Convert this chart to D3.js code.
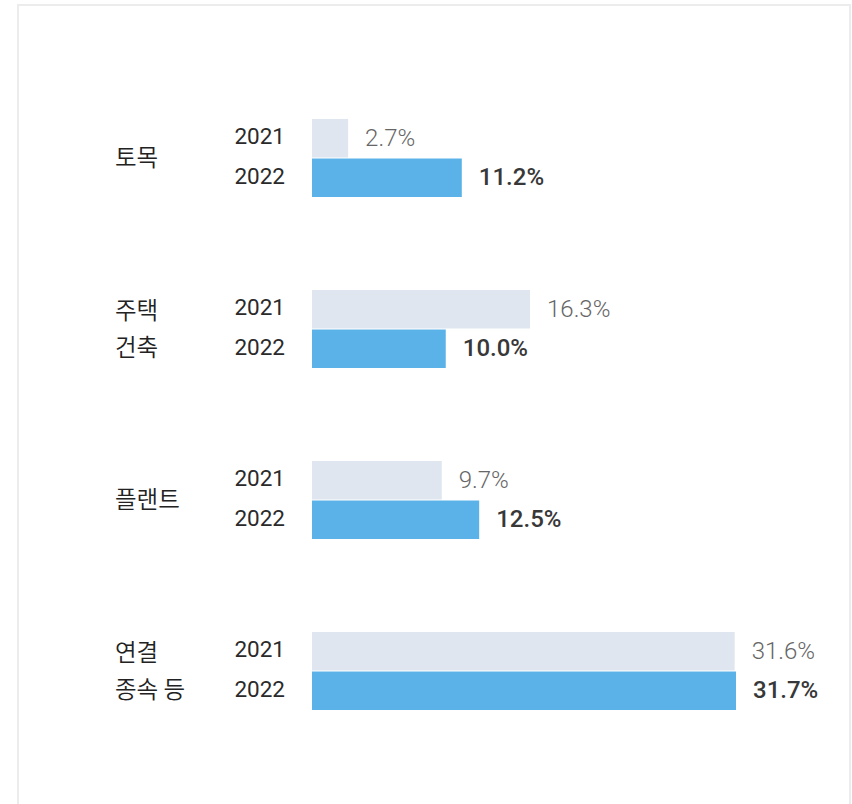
<!DOCTYPE html>
<html>
<head>
<meta charset="utf-8">
<script src="https://cdn.jsdelivr.net/npm/d3@7"></script>
<style>
  html, body { margin: 0; padding: 0; background: #fff; }
  svg { display: block; }
</style>
</head>
<body>
<div id="chart"></div>
<script>
// categories (line breaks as in the original labels)
var categories = ["토목", "주택건축", "플랜트", "연결종속등"];
var categoryLines = [["토목"], ["주택", "건축"], ["플랜트"], ["연결", "종속 등"]];
var years = ["2021", "2022"];
var values2021 = [2.7, 16.3, 9.7, 31.6];
var values2022 = [11.2, 10.0, 12.5, 31.7];

var width = 852, height = 804;

var svg = d3.select("#chart")
    .append("svg")
    .attr("width", width)
    .attr("height", height);

// card border
svg.append("rect")
    .attr("x", 18)
    .attr("y", 5)
    .attr("width", 832)
    .attr("height", 830)
    .attr("fill", "#fff")
    .attr("stroke", "#ececec")
    .attr("stroke-width", 2);

var rows = categories.map(function (c, i) {
    return {cat: c, lines: categoryLines[i], vals: [values2021[i], values2022[i]]};
});

// group scale
var y = d3.scaleBand()
    .domain(categories)
    .range([119, 710])
    .paddingInner(0.5439)
    .paddingOuter(0);

// year scale inside a group
var yInner = d3.scaleBand()
    .domain(years)
    .range([0, y.bandwidth()])
    .paddingInner(0.026);

var x = d3.scaleLinear()
    .domain([0, 40])
    .range([312, 847]);

var colors = {"2021": "#dfe6f0", "2022": "#5ab2e8"};

var g = svg.selectAll(".row")
    .data(rows)
    .enter()
    .append("g")
    .attr("class", "row")
    .attr("transform", function (d) { return "translate(0," + y(d.cat) + ")"; });

// category label
var catFs = 23.5;
g.append("text")
    .attr("x", 115)
    .attr("font-family", "'Noto Sans CJK KR', 'Noto Sans', sans-serif")
    .attr("font-size", catFs)
    .attr("font-weight", 350)
    .attr("fill", "#222")
    .each(function (d) {
        var t = d3.select(this);
        var lh = 36.7;
        var start = y.bandwidth() / 2 - (d.lines.length - 1) * lh / 2 + catFs * 0.36;
        d.lines.forEach(function (line, k) {
            t.append("tspan")
                .attr("x", 115)
                .attr("y", start + k * lh)
                .text(line);
        });
    });

years.forEach(function (yr, j) {
    // bars
    g.append("rect")
        .attr("x", x(0))
        .attr("y", yInner(yr))
        .attr("width", function (d) { return x(d.vals[j]) - x(0); })
        .attr("height", yInner.bandwidth())
        .attr("fill", colors[yr]);

    // year labels
    g.append("text")
        .attr("x", 285)
        .attr("y", yInner(yr) + yInner.bandwidth() / 2 + 22.5 * 0.355 - 2)
        .attr("text-anchor", "end")
        .attr("font-family", "Roboto, sans-serif")
        .attr("font-size", 22.5)
        .attr("font-weight", 400)
        .attr("fill", "#2a2a2a")
        .text(yr);

    // value labels
    g.append("text")
        .attr("x", function (d) { return x(d.vals[j]) + 17; })
        .attr("y", yInner(yr) + yInner.bandwidth() / 2 + 24 * 0.355 - 1)
        .attr("font-family", "Roboto, sans-serif")
        .attr("font-size", 24)
        .attr("font-weight", j === 0 ? 300 : 500)
        .attr("fill", j === 0 ? "#666" : "#383838")
        .text(function (d) { return d3.format(".1f")(d.vals[j]) + "%"; });
});
</script>
</body>
</html>
